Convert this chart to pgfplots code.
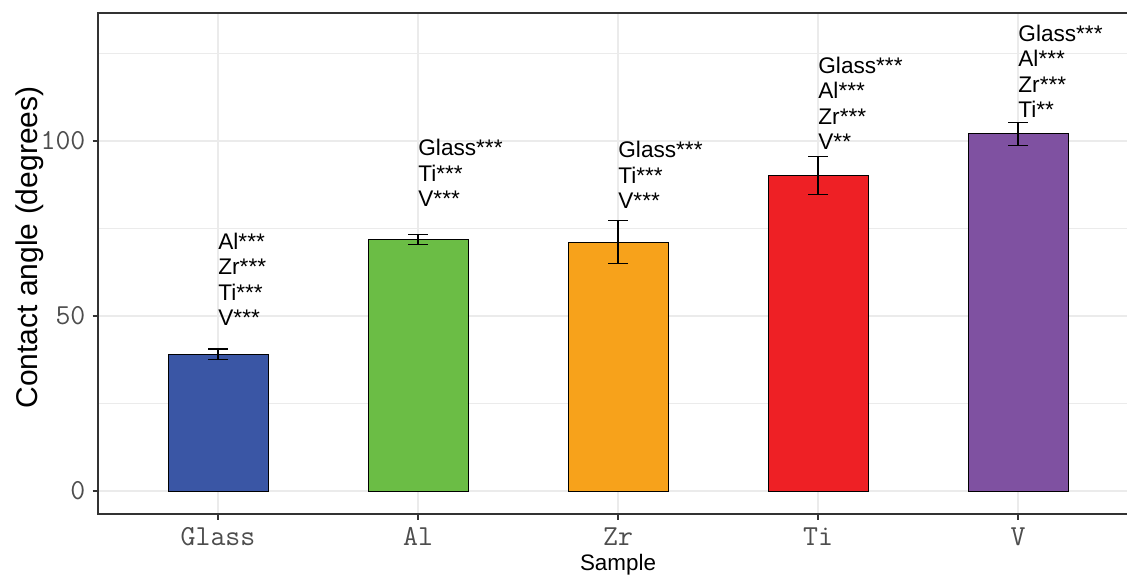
\documentclass[border=0pt]{standalone}
\usepackage{fontspec}
\setmainfont{Liberation Sans}
\usepackage{pgfplots}
\pgfplotsset{compat=1.18}
\definecolor{cGlass}{HTML}{3A56A5}
\definecolor{cAl}{HTML}{6BBD45}
\definecolor{cZr}{HTML}{F7A21B}
\definecolor{cTi}{HTML}{EE2025}
\definecolor{cV}{HTML}{7F51A1}
\definecolor{grid}{HTML}{EBEBEB}
\definecolor{frame}{HTML}{333333}
\definecolor{ticklab}{HTML}{4D4D4D}
\begin{document}
\begin{tikzpicture}
\path[use as bounding box] (0,0) rectangle (563.5pt,287.5pt);
\begin{axis}[
  at={(49pt,30.5pt)}, anchor=south west,
  scale only axis, width=520pt, height=250.5pt,
  xmin=0.4, xmax=5.6, ymin=-6.57, ymax=136.57,
  xtick={1,2,3,4,5},
  xticklabels={Glass,Al,Zr,Ti,V},
  ytick={0,50,100},
  minor ytick={25,75,125},
  tick align=outside,
  xtick pos=bottom, ytick pos=left,
  major tick length=2.75pt, minor tick length=0pt,
  tick style={color=frame, line width=0.7pt},
  grid=both,
  major grid style={color=grid, line width=0.8pt},
  minor grid style={color=grid, line width=0.45pt},
  axis line style={color=frame, line width=0.8pt},
  /pgf/number format/assume math mode=true,
  ticklabel style={font=\ttfamily\fontsize{14.5}{16}\selectfont, text=ticklab},
  xticklabel style={yshift=-0.5pt},
  xlabel={Sample},
  ylabel={Contact angle (degrees)},
  xlabel style={font=\fontsize{11.2}{13}\selectfont, at={(axis description cs:0.5,-0.1018)}, anchor=center},
  ylabel style={font=\fontsize{15}{17}\selectfont, at={(axis description cs:-0.0654,0.532)}, anchor=center},
  clip=false,
]
\addplot[ybar, bar width=0.5, bar shift=0, fill=cGlass, draw=black, line width=0.5pt,
  error bars/.cd, y dir=both, y explicit,
  error bar style={line width=0.6pt, black},
  error mark options={rotate=90, mark size=5pt, line width=0.6pt, black}]
  coordinates {(1,39.1) +- (0,1.5)};
\addplot[ybar, bar width=0.5, bar shift=0, fill=cAl, draw=black, line width=0.5pt,
  error bars/.cd, y dir=both, y explicit,
  error bar style={line width=0.6pt, black},
  error mark options={rotate=90, mark size=5pt, line width=0.6pt, black}]
  coordinates {(2,71.9) +- (0,1.5)};
\addplot[ybar, bar width=0.5, bar shift=0, fill=cZr, draw=black, line width=0.5pt,
  error bars/.cd, y dir=both, y explicit,
  error bar style={line width=0.6pt, black},
  error mark options={rotate=90, mark size=5pt, line width=0.6pt, black}]
  coordinates {(3,71.1) +- (0,6.2)};
\addplot[ybar, bar width=0.5, bar shift=0, fill=cTi, draw=black, line width=0.5pt,
  error bars/.cd, y dir=both, y explicit,
  error bar style={line width=0.6pt, black},
  error mark options={rotate=90, mark size=5pt, line width=0.6pt, black}]
  coordinates {(4,90.2) +- (0,5.4)};
\addplot[ybar, bar width=0.5, bar shift=0, fill=cV, draw=black, line width=0.5pt,
  error bars/.cd, y dir=both, y explicit,
  error bar style={line width=0.6pt, black},
  error mark options={rotate=90, mark size=5pt, line width=0.6pt, black}]
  coordinates {(5,102.1) +- (0,3.3)};
\tikzset{ann/.style={anchor=south west, align=left, inner sep=0pt, font=\fontsize{11.3}{12.75}\selectfont}}
\node[ann] at (axis cs:1,47.1) {Al***\\Zr***\\Ti***\\V***};
\node[ann] at (axis cs:2,81.1) {Glass***\\Ti***\\V***};
\node[ann] at (axis cs:3,80.5) {Glass***\\Ti***\\V***};
\node[ann] at (axis cs:4,97.4) {Glass***\\Al***\\Zr***\\V**};
\node[ann] at (axis cs:5,106.5) {Glass***\\Al***\\Zr***\\Ti**};
\end{axis}
\end{tikzpicture}
\end{document}
